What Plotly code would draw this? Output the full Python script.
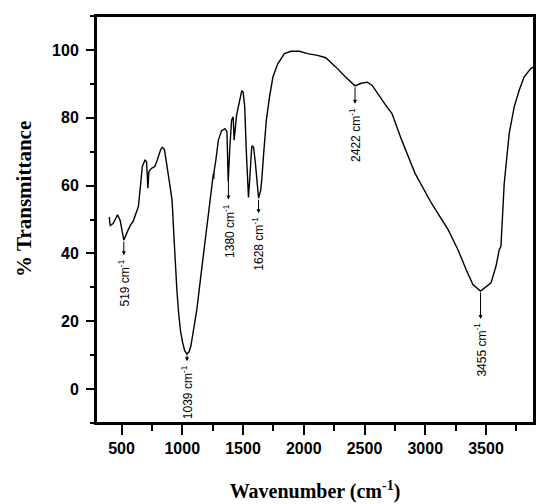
import plotly.graph_objects as go

# FTIR spectrum (wavenumber in cm^-1, % transmittance)
wavenumber = [399, 407, 431, 467, 489, 519, 549, 576, 595, 622, 639, 658, 671, 693, 706, 717, 725,
              747, 774, 794, 821, 835, 853, 875, 902, 916, 930, 943, 956, 970, 986, 1003, 1020,
              1039, 1055, 1071, 1095, 1120, 1150, 1180, 1205, 1226, 1250, 1256, 1259, 1263, 1275,
              1297, 1324, 1351, 1368, 1378, 1392, 1406, 1419, 1427, 1447, 1474, 1490, 1501, 1514,
              1528, 1545, 1555, 1562, 1572, 1580, 1588, 1602, 1618, 1628, 1645, 1655, 1670, 1692,
              1718, 1746, 1786, 1841, 1896, 1963, 2031, 2113, 2181, 2263, 2344, 2398, 2422, 2467,
              2521, 2562, 2616, 2684, 2725, 2806, 2916, 3051, 3188, 3269, 3337, 3392, 3455, 3541,
              3582, 3609, 3623, 3650, 3691, 3732, 3773, 3813, 3868, 3890, 3910]
transmittance = [50.7, 48.2, 48.8, 51.4, 49.7, 43.9, 46.5, 48.5, 49.4, 51.9, 53.8, 60.7, 65.6, 67.5,
                 67.1, 59.2, 64.1, 65.1, 65.6, 67.5, 70.5, 71.3, 70.7, 65.6, 58.7, 55.8, 46.0, 36.2,
                 29.0, 22.5, 17.0, 13.7, 11.3, 10.3, 11.0, 12.7, 17.5, 23.5, 32.5, 41.0, 49.5, 55.8,
                 61.5, 63.5, 62.0, 64.5, 67.1, 73.4, 76.2, 76.8, 75.9, 61.2, 71.5, 79.3, 80.3, 73.4,
                 80.8, 86.0, 88.0, 87.6, 83.2, 69.5, 56.5, 61.7, 68.0, 71.5, 71.6, 71.0, 66.6, 58.5,
                 56.3, 58.5, 62.0, 69.5, 79.3, 86.1, 92.0, 95.9, 98.9, 99.6, 99.6, 98.9, 98.4, 97.7,
                 95.0, 92.0, 90.1, 89.4, 90.1, 90.5, 89.6, 86.6, 83.2, 81.3, 73.4, 63.6, 54.8, 47.0,
                 41.1, 35.2, 30.8, 28.9, 31.3, 36.2, 41.1, 42.1, 60.7, 75.4, 83.2, 88.1, 92.0, 94.5,
                 95.0, 95.3]

# Marked bands
peak_wn = [519, 1039, 1380, 1628, 2422, 3455]
peak_labels = ["519 cm<sup>-1</sup>", "1039 cm<sup>-1</sup>", "1380 cm<sup>-1</sup>",
               "1628 cm<sup>-1</sup>", "2422 cm<sup>-1</sup>", "3455 cm<sup>-1</sup>"]

x_ticks = [500, 1000, 1500, 2000, 2500, 3000, 3500]
y_ticks = [0, 20, 40, 60, 80, 100]

# layout / style
W, H = 537, 504
M = dict(l=96, r=1, t=16, b=81)
X_RANGE = [290, 3895]
Y_RANGE = [-10, 110]
arrow_len_px = [15, 7, 23, 15, 18, 28]
plot_h = H - M["t"] - M["b"]
px_per_unit = plot_h / (Y_RANGE[1] - Y_RANGE[0])


def t_at(w):
    for i in range(len(wavenumber) - 1):
        if wavenumber[i] <= w <= wavenumber[i + 1]:
            f = (w - wavenumber[i]) / (wavenumber[i + 1] - wavenumber[i])
            return transmittance[i] + f * (transmittance[i + 1] - transmittance[i])
    return transmittance[-1]


fig = go.Figure()
fig.add_trace(go.Scatter(x=wavenumber, y=transmittance, mode="lines",
                         line=dict(color="black", width=1.4), showlegend=False,
                         hoverinfo="skip"))

annotations = []
for w, lab, L in zip(peak_wn, peak_labels, arrow_len_px):
    t0 = t_at(w)
    t1 = t0 - L / px_per_unit
    annotations.append(dict(x=w, y=t1, ax=w, ay=t0, axref="x", ayref="y",
                            xref="x", yref="y", text="", showarrow=True,
                            arrowhead=2, arrowsize=0.8, arrowwidth=1, arrowcolor="black"))
    annotations.append(dict(x=w, y=t1, xref="x", yref="y", text=lab, showarrow=False,
                            textangle=-90, yanchor="top", xanchor="center", yshift=-2,
                            font=dict(family="Liberation Sans, Arial", size=12, color="black")))

annotations.append(dict(text="% Transmittance", xref="paper", yref="paper",
                        x=-0.165, y=0.55, xanchor="center", yanchor="middle",
                        textangle=-90, showarrow=False,
                        font=dict(family="Liberation Serif, Times New Roman", size=21,
                                  color="black", weight="bold")))

fig.update_layout(
    width=W, height=H, margin=M,
    paper_bgcolor="white", plot_bgcolor="white",
    annotations=annotations,
    shapes=[dict(type="rect", xref="paper", yref="paper", x0=0, y0=0, x1=1, y1=1,
                 line=dict(color="black", width=2), fillcolor="rgba(0,0,0,0)", layer="above")],
    xaxis=dict(range=X_RANGE, tickvals=x_ticks, ticks="outside", ticklen=10, tickwidth=2,
               tickcolor="black", showline=True, linewidth=2, linecolor="black", mirror=True,
               showgrid=False, zeroline=False,
               minor=dict(dtick=250, tick0=250, ticks="outside", ticklen=6, tickwidth=2,
                          tickcolor="black", showgrid=False),
               tickfont=dict(family="Liberation Sans, Arial", size=16, color="black", weight="bold"),
               title=dict(text="Wavenumber (cm<sup>-1</sup>)", standoff=28,
                          font=dict(family="Liberation Serif, Times New Roman", size=20,
                                    color="black", weight="bold"))),
    yaxis=dict(range=Y_RANGE, tickvals=y_ticks, ticks="outside", ticklen=8, tickwidth=2,
               tickcolor="black", showline=True, linewidth=2, linecolor="black", mirror=True,
               showgrid=False, zeroline=False, ticklabelstandoff=4,
               minor=dict(dtick=10, tick0=10, ticks="outside", ticklen=4, tickwidth=2,
                          tickcolor="black", showgrid=False),
               tickfont=dict(family="Liberation Sans, Arial", size=16, color="black", weight="bold")),
)

fig.write_html("out.html", config={"displayModeBar": False},
               post_script="document.body.style.margin='0';")
